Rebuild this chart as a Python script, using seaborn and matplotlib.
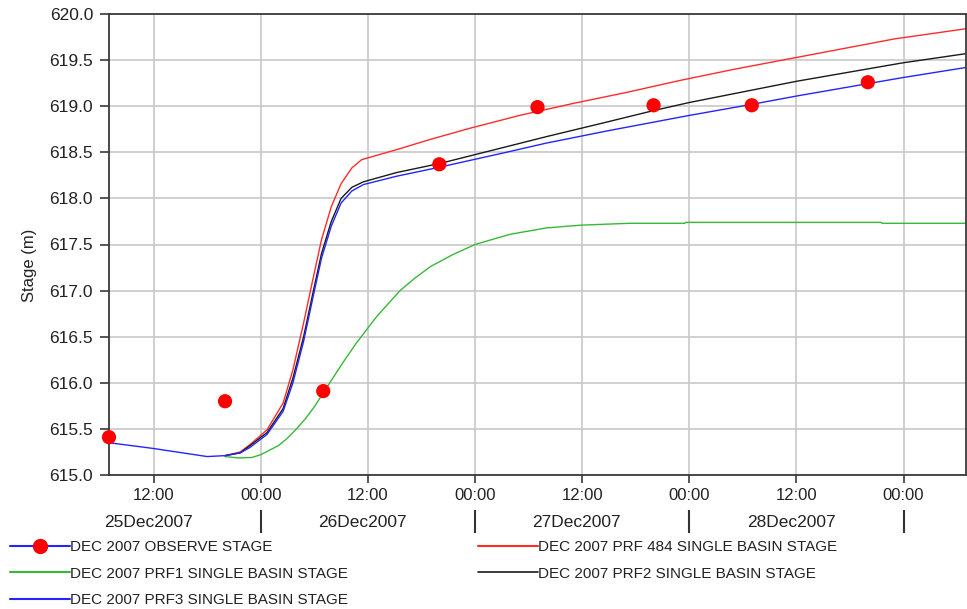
import matplotlib
matplotlib.use("Agg")
import matplotlib.pyplot as plt
import matplotlib.dates as mdates
from matplotlib.lines import Line2D
from matplotlib.ticker import FormatStrFormatter, MultipleLocator
import pandas as pd
import seaborn as sns

START = pd.Timestamp("2007-12-25 00:00")

# Observed stage: hours after 25 Dec 2007 00:00, stage in metres
obs_hours = [7, 20, 31, 44, 55, 68, 79, 92]
obs_stage = [615.41, 615.80, 615.91, 618.37, 618.99, 619.01, 619.01, 619.26]

# PRF 484 single basin
prf484_hours = [20, 21.7, 22.8, 24.7, 26.5, 27.6, 28.8, 29.9, 30.8, 31.9, 33.0,
                34.2, 35.3, 39.6, 43.0, 47.4, 53, 59, 65, 71, 77, 83, 89, 95, 103]
prf484_stage = [615.21, 615.25, 615.33, 615.49, 615.78, 616.14, 616.65, 617.15,
                617.55, 617.91, 618.16, 618.33, 618.42, 618.54, 618.64, 618.76,
                618.90, 619.03, 619.15, 619.28, 619.40, 619.51, 619.62, 619.73,
                619.84]

# PRF1 single basin
prf1_hours = [20, 21.5, 23, 24, 25, 26, 27, 28, 29, 30, 31, 32, 33, 34.7, 37.0,
              39.6, 41.2, 43.0, 45.5, 48.0, 51.9, 56.0, 59.9, 65.3, 71.5, 71.6,
              93.5, 93.6, 103]
prf1_stage = [615.20, 615.185, 615.19, 615.22, 615.27, 615.32, 615.40, 615.50,
              615.61, 615.74, 615.89, 616.04, 616.19, 616.43, 616.72, 617.00,
              617.13, 617.26, 617.39, 617.50, 617.61, 617.68, 617.71, 617.73,
              617.73, 617.74, 617.74, 617.73, 617.73]

# PRF2 single basin
prf2_hours = [20, 21.7, 22.8, 24.7, 26.5, 27.6, 28.8, 29.9, 30.8, 31.9, 33.0,
              34.2, 35.5, 39.2, 44.1, 47.8, 51.5, 56.0, 62.0, 67.9, 72.0, 84.0,
              95.9, 103]
prf2_stage = [615.21, 615.24, 615.32, 615.46, 615.72, 616.05, 616.50, 617.00,
              617.40, 617.75, 618.00, 618.12, 618.18, 618.28, 618.38, 618.47,
              618.56, 618.67, 618.81, 618.95, 619.04, 619.27, 619.47, 619.57]

# PRF3 single basin
prf3_hours = [7, 11.8, 18.0, 20, 21.7, 22.8, 24.7, 26.5, 27.6, 28.8, 29.9, 30.8,
              31.9, 33.0, 34.2, 35.5, 39.2, 44.1, 47.8, 51.5, 56.0, 62.7, 72.0,
              79.0, 84.0, 95.9, 103]
prf3_stage = [615.35, 615.29, 615.20, 615.21, 615.24, 615.30, 615.44, 615.69,
              616.00, 616.45, 616.95, 617.35, 617.70, 617.95, 618.08, 618.15,
              618.24, 618.34, 618.42, 618.50, 618.60, 618.73, 618.90, 619.02,
              619.11, 619.31, 619.42]

labels = {
    "obs": "DEC 2007 OBSERVE STAGE",
    "prf484": "DEC 2007 PRF 484 SINGLE BASIN STAGE",
    "prf1": "DEC 2007 PRF1 SINGLE BASIN STAGE",
    "prf2": "DEC 2007 PRF2 SINGLE BASIN STAGE",
    "prf3": "DEC 2007 PRF3 SINGLE BASIN STAGE",
}
colors = {"obs": "#ff0000", "prf484": "#ff2b2b", "prf1": "#38b838",
          "prf2": "#1a1a1a", "prf3": "#2424ff"}

day_labels = ["25Dec2007", "26Dec2007", "27Dec2007", "28Dec2007"]


def frame(hours, stage):
    return pd.DataFrame({"time": START + pd.to_timedelta(hours, unit="h"),
                         "stage": stage})


sns.set_theme(style="whitegrid")
plt.rcParams["font.family"] = ["Liberation Sans", "DejaVu Sans"]

fig = plt.figure(figsize=(9.67, 6.09), dpi=100)
ax = fig.add_axes([109 / 967, 1 - 475 / 609, 857 / 967, 461 / 609])
ax.set_facecolor("white")

lw = 1.0
sns.lineplot(data=frame(prf1_hours, prf1_stage), x="time", y="stage",
             color=colors["prf1"], lw=lw, ax=ax)
sns.lineplot(data=frame(prf484_hours, prf484_stage), x="time", y="stage",
             color=colors["prf484"], lw=lw, ax=ax)
sns.lineplot(data=frame(prf2_hours, prf2_stage), x="time", y="stage",
             color=colors["prf2"], lw=lw, ax=ax)
sns.lineplot(data=frame(prf3_hours, prf3_stage), x="time", y="stage",
             color=colors["prf3"], lw=lw, ax=ax)
sns.scatterplot(data=frame(obs_hours, obs_stage), x="time", y="stage",
                color=colors["obs"], s=105, edgecolor="none", ax=ax, zorder=5,
                clip_on=False)

ax.set_xlim(START + pd.Timedelta(hours=7), START + pd.Timedelta(hours=103))
ax.set_ylim(615.0, 620.0)
ax.yaxis.set_major_locator(MultipleLocator(0.5))
ax.yaxis.set_major_formatter(FormatStrFormatter("%.1f"))
ax.xaxis.set_major_locator(mdates.HourLocator(byhour=[0, 12]))
ax.xaxis.set_major_formatter(mdates.DateFormatter("%H:%M"))

ax.grid(True, color="#c8c8c8", lw=1.2)
for sp in ax.spines.values():
    sp.set_visible(True)
    sp.set_color("#3a3a3a")
    sp.set_linewidth(1.3)

ax.tick_params(axis="y", which="major", direction="out", length=6.5, width=1.2,
               color="#3a3a3a", labelsize=12.5, pad=5, labelcolor="#222222",
               left=True)
ax.tick_params(axis="x", which="major", direction="out", length=5.5, width=1.2,
               color="#3a3a3a", labelsize=12, pad=4, labelcolor="#222222",
               bottom=True)

ax.set_xlabel("")
ax.set_ylabel("Stage (m)", fontsize=12, color="#222222")
ax.yaxis.set_label_coords(-0.084, 0.455)

# Day separators and day names under the hour ticks
xt = ax.get_xaxis_transform()
midnights = [START + pd.Timedelta(days=d) for d in (1, 2, 3, 4)]
noons = [START + pd.Timedelta(days=d, hours=12) for d in (0, 1, 2, 3)]
ax.vlines(midnights, -0.076, -0.126, transform=xt, clip_on=False,
          color="#333333", lw=1.5)
for t, lab in zip(noons, day_labels):
    ax.text(t - pd.Timedelta(minutes=35), -0.102, lab, transform=xt,
            ha="center", va="center", fontsize=12.5, color="#222222")

handles = [
    Line2D([], [], color=colors["prf3"], lw=1.5, marker="o", markersize=10,
           markerfacecolor=colors["obs"], markeredgecolor=colors["obs"]),
    Line2D([], [], color=colors["prf1"], lw=1.5),
    Line2D([], [], color=colors["prf3"], lw=1.5),
    Line2D([], [], color=colors["prf484"], lw=1.5),
    Line2D([], [], color=colors["prf2"], lw=1.2),
]
names = [labels["obs"], labels["prf1"], labels["prf3"], labels["prf484"],
         labels["prf2"]]
fig.legend(handles, names, ncol=2, loc="upper left",
           bbox_to_anchor=(0.0103, 1 - 540 / 609), frameon=False,
           fontsize=11, handlelength=3.9, handletextpad=0.05,
           labelspacing=0.82, columnspacing=8.5, borderpad=0,
           borderaxespad=0, labelcolor="#222222")

fig.savefig("out.png", dpi=100, facecolor="white")
